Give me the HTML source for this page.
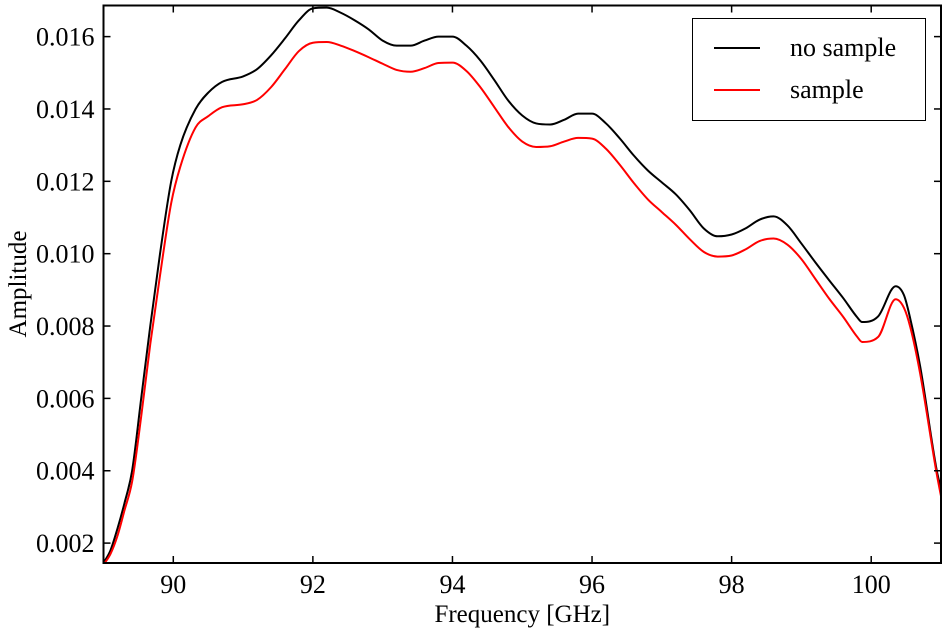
<!DOCTYPE html>
<html><head><meta charset="utf-8"><style>
html,body{margin:0;padding:0;background:#fff;}
svg{display:block;font-family:"Liberation Serif",serif;}
</style></head><body>
<svg id="chart" width="948" height="635"></svg>
<script>
const freqs=[89.0,89.1,89.2,89.3,89.41,89.54,89.67,89.81,89.97,90.1,90.32,90.5,90.7,91.0,91.2,91.4,91.6,91.8,92.0,92.2,92.4,92.6,92.8,93.0,93.2,93.4,93.6,93.8,94.0,94.2,94.4,94.6,94.8,95.0,95.2,95.4,95.6,95.8,96.0,96.2,96.4,96.6,96.8,97.0,97.2,97.4,97.6,97.8,98.0,98.2,98.4,98.6,98.8,99.0,99.2,99.4,99.6,99.8,99.87,100.1,100.35,100.47,100.56,100.7,100.94,101.0];
const noSample=[0.00145,0.0018,0.0024,0.0031,0.004,0.006,0.008,0.010,0.012,0.0130,0.014,0.01445,0.01475,0.0149,0.0151,0.01548,0.01595,0.01645,0.01678,0.0168,0.01666,0.01645,0.0162,0.01589,0.01575,0.01575,0.01589,0.016,0.016,0.01575,0.01534,0.0148,0.01423,0.01382,0.0136,0.01357,0.0137,0.01387,0.01387,0.0136,0.01318,0.01271,0.0123,0.01197,0.01164,0.0112,0.0107,0.01048,0.01053,0.0107,0.01094,0.01103,0.01078,0.01028,0.00976,0.00926,0.00877,0.00824,0.00811,0.00827,0.0091,0.00885,0.0082,0.0069,0.0040,0.0035];
const sample=[0.0014,0.0017,0.0022,0.0029,0.0037,0.0055,0.0075,0.0094,0.0114,0.0124,0.01349,0.0138,0.01405,0.01413,0.01425,0.0146,0.0151,0.0156,0.01583,0.01585,0.01575,0.0156,0.01543,0.01525,0.01508,0.01503,0.01513,0.01527,0.01528,0.01505,0.0146,0.01405,0.0135,0.0131,0.01295,0.01297,0.0131,0.0132,0.01318,0.0129,0.01245,0.01195,0.0115,0.01115,0.0108,0.0104,0.01005,0.00992,0.00995,0.01012,0.01035,0.01042,0.01025,0.00985,0.0093,0.00875,0.00825,0.0077,0.00756,0.0077,0.00874,0.0085,0.00797,0.0067,0.0039,0.0033];
const xTicks=[90,92,94,96,98,100];
const yTicks=[0.002,0.004,0.006,0.008,0.010,0.012,0.014,0.016];
const xTickLabels=["90","92","94","96","98","100"];
const yTickLabels=["0.002","0.004","0.006","0.008","0.010","0.012","0.014","0.016"];
const xMin=89,xMax=101,yMin=0.00145,yMax=0.01686;
const L=103.5,R=941,T=5.5,B=563;
const sx=v=>L+(v-xMin)/(xMax-xMin)*(R-L);
const sy=v=>B-(v-yMin)/(yMax-yMin)*(B-T);
const NS="http://www.w3.org/2000/svg";
const svg=document.getElementById('chart');
function mk(tag,attrs,parent){const e=document.createElementNS(NS,tag);for(const k in attrs)e.setAttribute(k,attrs[k]);(parent||svg).appendChild(e);return e;}
const clip=mk('clipPath',{id:'pc'});mk('rect',{x:L,y:T,width:R-L,height:B-T},clip);
function monoPath(xs,ys){
  const n=xs.length,d=[],m=new Array(n);
  for(let i=0;i<n-1;i++)d.push((ys[i+1]-ys[i])/(xs[i+1]-xs[i]));
  m[0]=d[0];m[n-1]=d[n-2];
  for(let i=1;i<n-1;i++){m[i]=(d[i-1]*d[i]<=0)?0:(d[i-1]+d[i])/2;}
  for(let i=0;i<n-1;i++){if(d[i]===0){m[i]=0;m[i+1]=0;continue;}const a=m[i]/d[i],b=m[i+1]/d[i],s=a*a+b*b;if(s>9){const t=3/Math.sqrt(s);m[i]=t*a*d[i];m[i+1]=t*b*d[i];}}
  let p='M'+xs[0].toFixed(2)+','+ys[0].toFixed(2);
  for(let i=0;i<n-1;i++){const h=(xs[i+1]-xs[i])/3;p+='C'+(xs[i]+h).toFixed(2)+','+(ys[i]+m[i]*h).toFixed(2)+' '+(xs[i+1]-h).toFixed(2)+','+(ys[i+1]-m[i+1]*h).toFixed(2)+' '+xs[i+1].toFixed(2)+','+ys[i+1].toFixed(2);}
  return p;
}
function line(data,color,name){
  const p=mk('path',{d:monoPath(freqs.map(sx),data.map(sy)),fill:'none',stroke:color,'stroke-width':2,'clip-path':'url(#pc)','stroke-linejoin':'round'});
  
  
}
line(noSample,'#000','no-sample-line');
line(sample,'#f00','sample-line');
const frame=mk('rect',{x:L,y:T,width:R-L,height:B-T,fill:'none',stroke:'#000','stroke-width':2});


xTicks.forEach((v,i)=>{
  const x=sx(v);
  mk('line',{x1:x,x2:x,y1:B,y2:B-7,stroke:'#000','stroke-width':1.5});
  mk('line',{x1:x,x2:x,y1:T,y2:T+7,stroke:'#000','stroke-width':1.5});
  const t=mk('text',{x:x,y:B+30,'text-anchor':'middle','font-size':26});
  t.textContent=xTickLabels[i];
  
  
});
yTicks.forEach((v,i)=>{
  const y=sy(v);
  mk('line',{x1:L,x2:L+7,y1:y,y2:y,stroke:'#000','stroke-width':1.5});
  mk('line',{x1:R,x2:R-7,y1:y,y2:y,stroke:'#000','stroke-width':1.5});
  const t=mk('text',{x:L-9,y:y+9,'text-anchor':'end','font-size':26});
  t.textContent=yTickLabels[i];
  
  
});
const xl=mk('text',{x:(L+R)/2,y:622,'text-anchor':'middle','font-size':25});
xl.textContent='Frequency [GHz]';


const yl=mk('text',{x:0,y:0,'text-anchor':'middle','font-size':25,transform:'translate(26,284) rotate(-90)'});
yl.textContent='Amplitude';


const lg=mk('g',{});


mk('rect',{x:692.5,y:18.5,width:233,height:102,fill:'#fff',stroke:'#000','stroke-width':1},lg);
[['no sample','#000',48],['sample','#f00',90]].forEach(([lab,c,y])=>{
  mk('line',{x1:714,x2:760,y1:y,y2:y,stroke:c,'stroke-width':2},lg);
  const t=mk('text',{x:790,y:y+8,'font-size':26},lg);
  t.textContent=lab;
  
  
});
</script>
</body></html>
